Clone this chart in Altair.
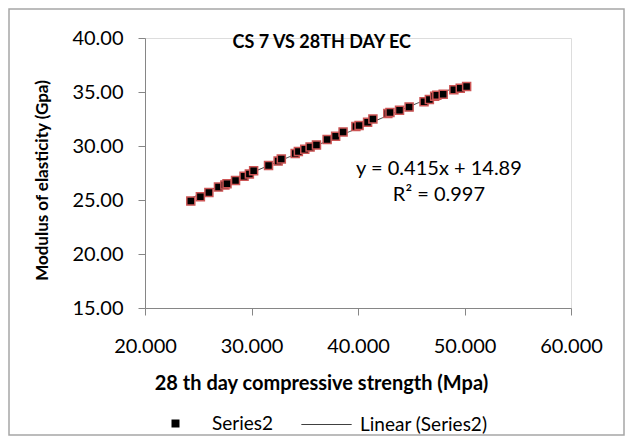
import altair as alt
import pandas as pd

# 28th day compressive strength (Mpa) and modulus of elasticity (Gpa)
strength = [24.3, 25.2, 26.0, 26.9, 27.5, 27.7, 28.5, 29.3, 29.8, 30.2, 31.6, 32.5, 32.8,
            34.1, 34.4, 35.0, 35.5, 36.1, 37.1, 37.9, 38.6, 39.8, 40.1, 40.9, 41.4, 42.8,
            43.0, 43.9, 44.8, 46.2, 46.7, 47.2, 47.4, 48.0, 49.0, 49.6, 50.2]
modulus = [24.9, 25.3, 25.7, 26.2, 26.4, 26.5, 26.8, 27.2, 27.4, 27.7, 28.2, 28.6, 28.8,
           29.3, 29.5, 29.7, 29.9, 30.1, 30.6, 30.9, 31.3, 31.8, 31.9, 32.2, 32.5, 33.0,
           33.1, 33.3, 33.6, 34.1, 34.3, 34.6, 34.7, 34.8, 35.2, 35.35, 35.5]

x_ticks = [20, 30, 40, 50, 60]
y_ticks = [15, 20, 25, 30, 35, 40]
legend_labels = ["Series2", "Linear (Series2)"]
chart_title = ["CS 7 VS 28TH DAY EC"]
title_x = [36.6]
title_y = [39.5]
equation_lines = ["y = 0.415x + 14.89", "R² = 0.997"]
equation_x = [47.6, 47.6]
equation_y = [27.9, 25.5]

FONT = "Lato"
W, H = 426, 270

df = pd.DataFrame({"strength": strength, "modulus": modulus})
df["series"] = legend_labels[0]

x_enc = alt.X(
    "strength:Q",
    scale=alt.Scale(domain=[20, 60], nice=False, zero=False),
    axis=alt.Axis(
        values=x_ticks, format=".3f", grid=False, labelFlush=False,
        title="28 th day compressive strength (Mpa)",
        domainColor="#868686", tickColor="#868686", tickSize=7,
        labelFont=FONT, labelFontSize=20, labelColor="#000000", labelPadding=21,
        titleFont=FONT, titleFontSize=20, titleFontWeight="bold", titleColor="#000000",
        titleX=176, titleY=75, titleAlign="center", titleBaseline="middle",
    ),
)
y_enc = alt.Y(
    "modulus:Q",
    scale=alt.Scale(domain=[15, 40], nice=False, zero=False),
    axis=alt.Axis(
        values=y_ticks, format=".2f", grid=False, labelFlush=False,
        title="Modulus of elasticity (Gpa)",
        domainColor="#868686", tickColor="#868686", tickSize=7,
        labelFont=FONT, labelFontSize=20, labelColor="#000000", labelPadding=15,
        titleFont=FONT, titleFontSize=17, titleFontWeight="bold", titleColor="#000000",
        titleX=-103, titleY=142, titleAngle=270, titleAlign="center", titleBaseline="middle",
    ),
)

line = alt.Chart(df).transform_regression(
    "strength", "modulus"
).transform_calculate(
    series="'" + legend_labels[1] + "'"
).mark_line(color="#333333", strokeWidth=1).encode(
    x=x_enc,
    y=y_enc,
    strokeDash=alt.StrokeDash(
        "series:N",
        scale=alt.Scale(domain=[legend_labels[1]], range=[[1, 0]]),
        legend=alt.Legend(
            title=None, orient="none", legendX=156, legendY=361, padding=0,
            symbolType="stroke", symbolSize=2500, symbolStrokeColor="#000000",
            symbolStrokeWidth=1, labelFont=FONT, labelFontSize=19,
            labelColor="#000000", labelOffset=8,
        ),
    ),
)

points = alt.Chart(df).mark_point(
    shape="square", filled=True, size=64, fill="#000000", opacity=1,
    stroke="#cc5555", strokeWidth=1.5,
).encode(
    x=x_enc,
    y=y_enc,
    shape=alt.Shape(
        "series:N",
        scale=alt.Scale(domain=[legend_labels[0]], range=["square"]),
        legend=alt.Legend(
            title=None, orient="none", legendX=21, legendY=376, padding=0,
            symbolSize=64, symbolFillColor="#000000", symbolStrokeColor="#cc5555",
            symbolStrokeWidth=1.5, labelFont=FONT, labelFontSize=19,
            labelColor="#000000", labelOffset=27,
        ),
    ),
)

eq_df = pd.DataFrame({"strength": equation_x, "modulus": equation_y, "text": equation_lines})
equation = alt.Chart(eq_df).mark_text(
    font=FONT, fontSize=20, color="#000000", align="center", baseline="middle"
).encode(x=x_enc, y=y_enc, text="text:N")

title_df = pd.DataFrame({"strength": title_x, "modulus": title_y, "text": chart_title})
title = alt.Chart(title_df).mark_text(
    font=FONT, fontSize=18, fontWeight="bold", color="#000000",
    align="center", baseline="middle"
).encode(x=x_enc, y=y_enc, text="text:N")

border = alt.Chart(pd.DataFrame({"a": [0]})).mark_rect(
    fillOpacity=0, stroke="#a6a6a6", strokeWidth=1.5
).encode(
    x=alt.value(-136), x2=alt.value(479), y=alt.value(-29), y2=alt.value(397)
)

chart = alt.layer(border, line, points, equation, title).properties(
    width=W,
    height=H,
    autosize=alt.AutoSizeParams(type="none"),
    padding={"left": 137, "top": 30, "right": 54, "bottom": 128},
).resolve_legend(shape="independent", strokeDash="independent").configure_view(
    strokeWidth=0
).configure(background="white")

chart.save("out.html", embed_options={"renderer": "svg", "actions": False})
